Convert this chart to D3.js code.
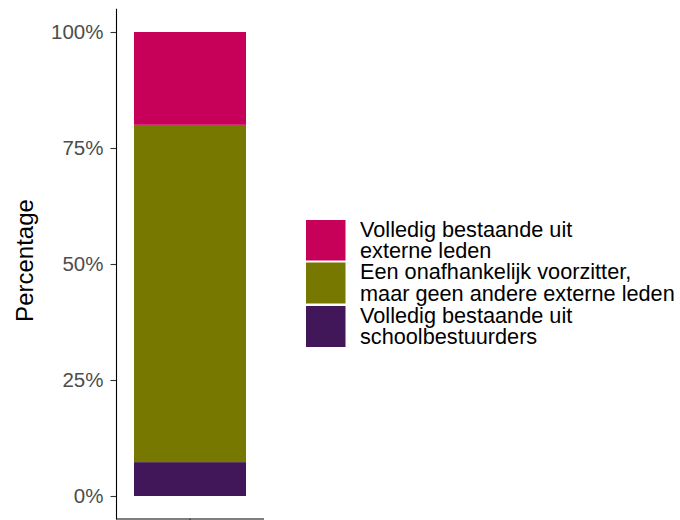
<!DOCTYPE html>
<html>
<head>
<meta charset="utf-8">
<script src="https://cdn.jsdelivr.net/npm/d3@7"></script>
<style>
  html, body { margin: 0; padding: 0; background: #fff; }
  svg { display: block; font-family: "Liberation Sans", Arial, sans-serif; }
</style>
</head>
<body>
<svg id="chart" width="680" height="520"></svg>
<script>
// ---- data ----
const categories = [""];
const seriesNames = [
  "Volledig bestaande uit schoolbestuurders",
  "Een onafhankelijk voorzitter, maar geen andere externe leden",
  "Volledig bestaande uit externe leden"
];
const seriesValues = [7.3, 72.7, 20.0];   // percentages, bottom to top
const seriesColors = ["#41175A", "#777800", "#C7005A"];
const legendOrder = [2, 1, 0];
const legendLines = [
  ["Volledig bestaande uit", "schoolbestuurders"],
  ["Een onafhankelijk voorzitter,", "maar geen andere externe leden"],
  ["Volledig bestaande uit", "externe leden"]
];
const yTicks = [0, 25, 50, 75, 100];
const yTickLabels = ["0%", "25%", "50%", "75%", "100%"];

// ---- layout ----
const svg = d3.select("#chart");
const panel = { left: 116, right: 264, top: 8.8, bottom: 519.2 };

const y = d3.scaleLinear().domain([-5, 105]).range([panel.bottom, panel.top]);
const x = d3.scaleBand().domain(categories).range([panel.left, panel.right])
  .paddingInner(0).paddingOuter(0.1607);

// stacked data
const row = {};
seriesNames.forEach((s, i) => row[s] = seriesValues[i]);
row.cat = categories[0];
const stack = d3.stack().keys(seriesNames)([row]);

svg.append("g").selectAll("rect")
  .data(stack)
  .join("rect")
  .attr("x", d => x(d[0].data.cat))
  .attr("width", x.bandwidth())
  .attr("y", d => y(d[0][1]))
  .attr("height", d => y(d[0][0]) - y(d[0][1]))
  .attr("fill", (d, i) => seriesColors[i]);

// y axis
const yAxis = d3.axisLeft(y).tickValues(yTicks)
  .tickFormat((d, i) => yTickLabels[i]).tickSize(5.5).tickPadding(7).tickSizeOuter(0);
const gy = svg.append("g").attr("transform", `translate(${panel.left},0)`).call(yAxis);
gy.select(".domain").attr("stroke", "#000").attr("stroke-width", 1.1)
  .attr("d", `M0.5,${panel.top}V${panel.bottom}`);
gy.selectAll(".tick line").attr("stroke", "#333").attr("stroke-width", 1.1);
gy.selectAll(".tick text").attr("fill", "#4d4d4d").attr("font-size", 20.5)
  .attr("font-family", "Liberation Sans, Arial, sans-serif");

// x axis
const xAxis = d3.axisBottom(x).tickSize(5.5).tickSizeOuter(0);
const gx = svg.append("g").attr("transform", `translate(0,${panel.bottom - 0.7})`).call(xAxis);
gx.select(".domain").attr("stroke", "#000").attr("stroke-width", 1.1)
  .attr("d", `M${panel.left},0.5H${panel.right}`);
gx.selectAll(".tick line").attr("stroke", "#333").attr("stroke-width", 1.1);

// y title
svg.append("text")
  .attr("transform", "translate(32.5,260.5) rotate(-90)")
  .attr("text-anchor", "middle")
  .attr("font-size", 24)
  .attr("fill", "#000")
  .text("Percentage");

// legend
const keyTops = [220, 262.5, 306];
const keyH = [40.5, 41, 41];
const lg = svg.append("g");
legendOrder.forEach((si, k) => {
  lg.append("rect")
    .attr("x", 306).attr("y", keyTops[k])
    .attr("width", 39.5).attr("height", keyH[k])
    .attr("fill", seriesColors[si]);
  const t = lg.append("text")
    .attr("x", 360).attr("y", keyTops[k] + 16.5)
    .attr("font-size", 21.7).attr("fill", "#000");
  legendLines[si].forEach((ln, j) => {
    t.append("tspan").attr("x", 360).attr("dy", j === 0 ? 0 : 21.6).text(ln);
  });
});
</script>
</body>
</html>
